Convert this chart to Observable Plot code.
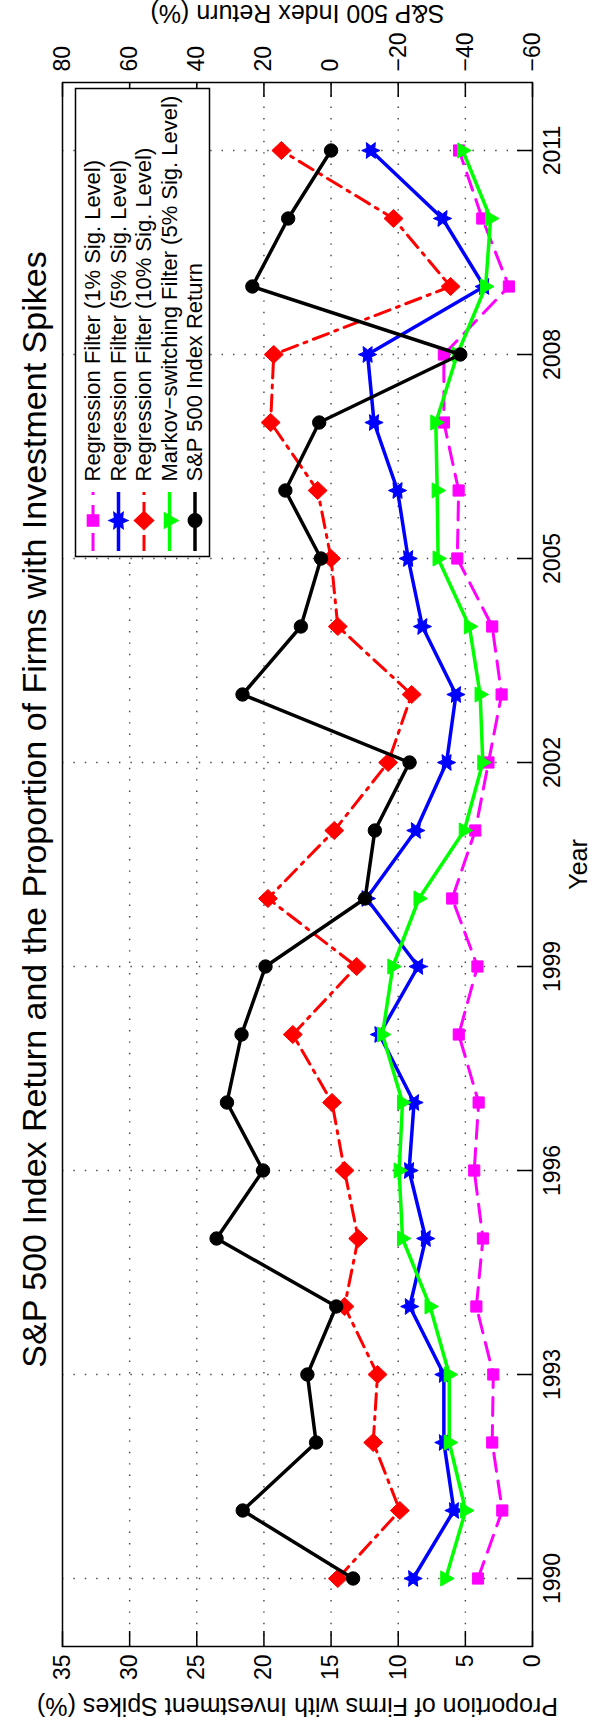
<!DOCTYPE html>
<html><head><meta charset="utf-8">
<script src="https://cdn.jsdelivr.net/npm/d3@7"></script>
<script src="https://cdn.jsdelivr.net/npm/@observablehq/plot@0.6"></script>
<style>
html,body{margin:0;padding:0;width:609px;height:1728px;overflow:hidden;background:#fff;}
#wrap{position:absolute;left:0;top:1728px;width:1728px;height:609px;transform-origin:0 0;transform:rotate(-90deg);}
</style></head><body><div id="wrap"></div>
<script>
const years = [1990,1991,1992,1993,1994,1995,1996,1997,1998,1999,2000,2001,2002,2003,2004,2005,2006,2007,2008,2009,2010,2011];
const regression1 = [4.06,2.25,3.00,2.92,4.18,3.69,4.34,4.01,5.49,4.10,5.98,4.26,3.28,2.30,3.00,5.60,5.50,6.60,6.60,1.76,3.74,5.47];
const regression5 = [8.89,5.85,6.60,6.60,9.14,7.95,9.19,8.82,11.40,8.52,12.36,8.69,6.40,5.70,8.20,9.26,10.05,11.80,12.28,3.60,6.70,12.04];
const regression10 = [14.50,9.88,11.86,11.54,14.00,12.98,14.00,14.93,17.85,13.10,19.70,14.76,10.75,9.00,14.50,15.00,16.00,19.50,19.27,6.10,10.35,18.70];
const markov5 = [6.46,4.98,6.20,6.20,7.63,9.68,9.93,9.68,11.17,10.40,8.45,5.08,3.70,3.90,4.70,7.03,7.10,7.20,5.60,3.49,3.12,5.20];
const sp500Return = [-6.56,26.31,4.46,7.06,-1.54,34.11,20.26,31.01,26.67,19.53,-10.14,-13.04,-23.37,26.38,8.99,3.00,13.62,3.53,-38.49,23.45,12.78,0.00];
const yearTicks = [1990,1993,1996,1999,2002,2005,2008,2011];
const proportionTicks = [0,5,10,15,20,25,30,35];
const returnTicks = [-60,-40,-20,0,20,40,60,80];
const seriesNames = ["Regression Filter (1% Sig. Level)","Regression Filter (5% Sig. Level)","Regression Filter (10% Sig. Level)","Markov\u2212switching Filter (5% Sig. Level)","S&P 500 Index Return"];
const titleText = "S&P 500 Index Return and the Proportion of Firms with Investment Spikes";
const yLabelLeft = "Proportion of Firms with Investment Spikes (%)";
const yLabelRight = "S&P 500 Index Return (%)";
const xLabel = "Year";

const W = 1728, H = 609;
const mL = 81, mR = 83, mT = 62, mB = 77;
const frameW = W - mL - mR, frameH = H - mT - mB;
const propDomain = [0, 35], retDomain = [-60, 80];
const toP = r => (r - retDomain[0]) * (propDomain[1] - propDomain[0]) / (retDomain[1] - retDomain[0]) + propDomain[0];
const fmt = v => v < 0 ? "\u2212" + Math.abs(v) : String(v);

const hexagram = {draw(ctx, size){ const R = Math.sqrt(size/Math.PI)*1.25, r = R*0.5;
  for (let i=0;i<12;i++){ const a=-Math.PI/2+i*Math.PI/6, rr=i%2?r:R; const x=rr*Math.cos(a), y=rr*Math.sin(a); i?ctx.lineTo(x,y):ctx.moveTo(x,y);} ctx.closePath(); }};
const triDown = {draw(ctx, size){ const R = Math.sqrt(size/Math.PI)*1.15;
  ctx.moveTo(0,R); ctx.lineTo(-R*0.9,-R*0.6); ctx.lineTo(R*0.9,-R*0.6); ctx.closePath(); }};
const diamond = {draw(ctx, size){ const R = Math.sqrt(size/Math.PI)*1.3;
  ctx.moveTo(0,-R); ctx.lineTo(R*0.95,0); ctx.lineTo(0,R); ctx.lineTo(-R*0.95,0); ctx.closePath(); }};

const styles = [
  {values: regression1, color: "#ff00ff", dash: "18,10", width: 3, symbol: "square", r: 6.3},
  {values: regression5, color: "#0000ff", dash: null, width: 3.5, symbol: hexagram, r: 7.3},
  {values: regression10, color: "#ff0000", dash: "16,7,3,7", width: 3, symbol: diamond, r: 7.3},
  {values: markov5, color: "#00ff00", dash: null, width: 3.5, symbol: triDown, r: 7.3},
  {values: sp500Return.map(toP), color: "#000000", dash: null, width: 3.5, symbol: "circle", r: 6.7}
];

const marks = [];
// grid
marks.push(Plot.ruleX(yearTicks, {x: d => d, stroke: "#444", strokeWidth: 1.4, strokeDasharray: "1.4,10"}));
marks.push(Plot.ruleY(proportionTicks.slice(1, -1), {y: d => d, stroke: "#444", strokeWidth: 1.4, strokeDasharray: "1.4,10"}));
// inward ticks
marks.push(Plot.tickX(yearTicks, {x: d => d, insetTop: frameH - 15, stroke: "black", strokeWidth: 1.5}));
marks.push(Plot.tickY(proportionTicks, {y: d => d, insetRight: frameW - 16, stroke: "black", strokeWidth: 1.5}));
marks.push(Plot.tickY(returnTicks, {y: toP, insetLeft: frameW - 14, stroke: "black", strokeWidth: 1.5}));
// series
for (const s of styles) {
  const rows = s.values.map((v, i) => ({year: years[i], v}));
  marks.push(Plot.line(rows, {x: "year", y: "v", stroke: s.color, strokeWidth: s.width, strokeDasharray: s.dash}));
  marks.push(Plot.dot(rows, {x: "year", y: "v", symbol: () => s.symbol, r: s.r, fill: s.color, stroke: s.color, strokeWidth: 1}));
}
// frame
marks.push(Plot.frame({stroke: "black", strokeWidth: 1.5}));
// axes
marks.push(Plot.axisX(yearTicks, {tickSize: 0, tickPadding: 11, label: null, tickFormat: d => String(d), fontSize: 23}));
marks.push(Plot.axisY(proportionTicks, {anchor: "left", tickSize: 0, tickPadding: 8, label: null, tickFormat: d => String(d), fontSize: 23}));
marks.push(Plot.text(returnTicks, {y: toP, frameAnchor: "right", dx: 11, textAnchor: "start", text: fmt, fontSize: 23, fill: "black"}));
// titles
marks.push(Plot.text([titleText], {frameAnchor: "top", dx: 55, dy: -27, text: d => d, fontSize: 34, textAnchor: "middle", lineAnchor: "middle", fill: "black"}));
marks.push(Plot.text([yLabelLeft], {frameAnchor: "left", dx: -59, text: d => d, rotate: -90, fontSize: 25, textAnchor: "middle", lineAnchor: "middle", fill: "black"}));
marks.push(Plot.text([yLabelRight], {frameAnchor: "right", dx: 70, text: d => d, rotate: -90, fontSize: 25, textAnchor: "middle", lineAnchor: "middle", fill: "black"}));
marks.push(Plot.text([xLabel], {frameAnchor: "bottom", dy: 46, text: d => d, fontSize: 25, textAnchor: "middle", lineAnchor: "middle", fill: "black"}));
// legend
const legLeft = 1171 - mL, legRight = 1639, legTop = 75, legBottom = 209;
marks.push(Plot.frame({fill: "white", stroke: "black", strokeWidth: 1.5, insetLeft: legLeft, insetRight: W - mR - legRight, insetTop: legTop - mT, insetBottom: H - mB - legBottom}));
styles.forEach((s, i) => {
  const rowY = 92.5 + 25.5 * i - mT;
  marks.push(Plot.ruleY([propDomain[1]], {dy: rowY, insetLeft: 1177 - mL, insetRight: W - mR - 1236, stroke: s.color, strokeWidth: s.width, strokeDasharray: s.dash}));
  marks.push(Plot.dot([0], {frameAnchor: "top-left", dx: 1207 - mL, dy: rowY, symbol: () => s.symbol, r: s.r, fill: s.color, stroke: s.color}));
  marks.push(Plot.text([seriesNames[i]], {frameAnchor: "top-left", dx: 1246 - mL, dy: rowY, text: d => d, textAnchor: "start", lineAnchor: "middle", fontSize: 22, fill: "black"}));
});

const chart = Plot.plot({
  width: W, height: H,
  marginLeft: mL, marginRight: mR, marginTop: mT, marginBottom: mB,
  x: {domain: [1989, 2012]},
  y: {domain: propDomain},
  style: {fontFamily: "'Liberation Sans', Arial, Helvetica, sans-serif", fontSize: "23px", background: "white", color: "black", overflow: "visible"},
  marks
});
document.getElementById("wrap").appendChild(chart);
</script></body></html>
